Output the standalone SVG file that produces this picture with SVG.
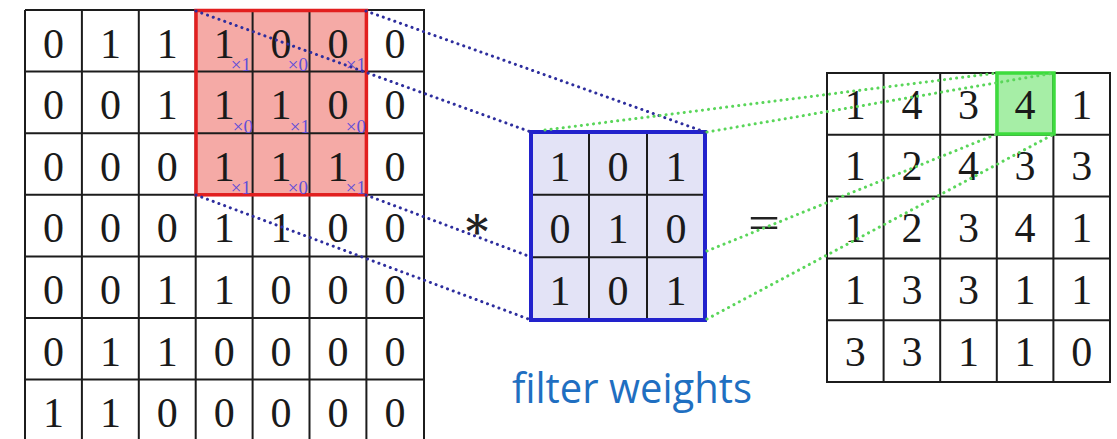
<svg xmlns="http://www.w3.org/2000/svg" width="1117" height="439" viewBox="0 0 1117 439">
  <defs>
    <style>
      .grid { fill: none; stroke: #1c1c1c; stroke-width: 2; }
      .num { font-family: "Liberation Serif", "DejaVu Serif", serif; font-size: 42px; fill: #1a1a1a; text-anchor: middle; }
      .sub { font-family: "Liberation Serif", "DejaVu Serif", serif; font-size: 19px; fill: #5f4fd8; text-anchor: end; }
      .dot-blue { fill: none; stroke: #2e2e9e; stroke-width: 3; stroke-linecap: round; stroke-dasharray: 0.1 6; }
      .dot-green { fill: none; stroke: #5ad65a; stroke-width: 3; stroke-linecap: round; stroke-dasharray: 0.1 6; }
      .label { font-family: "Open Sans", "Noto Sans", sans-serif; font-size: 42px; fill: #1f6fc1; }
    </style>
  </defs>

  <rect width="1117" height="439" fill="#ffffff"/>

  <!-- 7x7 input matrix with the 3x3 receptive field highlighted -->
  <g id="input-grid">
    <rect x="196" y="10" width="170" height="185" fill="#f5aaa6"/>
    <path class="grid" d="M25 10 H424 V441 M25 10 V441
      M81.9 10 V441 M138.8 10 V441 M195.7 10 V441 M252.6 10 V441 M309.5 10 V441 M366.4 10 V441
      M25 71.6 H424 M25 133.2 H424 M25 194.8 H424 M25 256.4 H424 M25 318 H424 M25 379.6 H424"/>
    <rect x="196" y="10.5" width="170.4" height="184.3" fill="none" stroke="#e21f1f" stroke-width="3.5"/>
    <g class="num">
      <text x="53.5" y="57.5">0</text><text x="110.4" y="57.5">1</text><text x="167.3" y="57.5">1</text><text x="224.2" y="57.5">1</text><text x="281.1" y="57.5">0</text><text x="338" y="57.5">0</text><text x="394.9" y="57.5">0</text>
      <text x="53.5" y="119">0</text><text x="110.4" y="119">0</text><text x="167.3" y="119">1</text><text x="224.2" y="119">1</text><text x="281.1" y="119">1</text><text x="338" y="119">0</text><text x="394.9" y="119">0</text>
      <text x="53.5" y="180.7">0</text><text x="110.4" y="180.7">0</text><text x="167.3" y="180.7">0</text><text x="224.2" y="180.7">1</text><text x="281.1" y="180.7">1</text><text x="338" y="180.7">1</text><text x="394.9" y="180.7">0</text>
      <text x="53.5" y="242.3">0</text><text x="110.4" y="242.3">0</text><text x="167.3" y="242.3">0</text><text x="224.2" y="242.3">1</text><text x="281.1" y="242.3">1</text><text x="338" y="242.3">0</text><text x="394.9" y="242.3">0</text>
      <text x="53.5" y="303.9">0</text><text x="110.4" y="303.9">0</text><text x="167.3" y="303.9">1</text><text x="224.2" y="303.9">1</text><text x="281.1" y="303.9">0</text><text x="338" y="303.9">0</text><text x="394.9" y="303.9">0</text>
      <text x="53.5" y="365.5">0</text><text x="110.4" y="365.5">1</text><text x="167.3" y="365.5">1</text><text x="224.2" y="365.5">0</text><text x="281.1" y="365.5">0</text><text x="338" y="365.5">0</text><text x="394.9" y="365.5">0</text>
      <text x="53.5" y="427.1">1</text><text x="110.4" y="427.1">1</text><text x="167.3" y="427.1">0</text><text x="224.2" y="427.1">0</text><text x="281.1" y="427.1">0</text><text x="338" y="427.1">0</text><text x="394.9" y="427.1">0</text>
    </g>
    <!-- kernel weights written as subscripts in the highlighted cells -->
    <g class="sub">
      <text x="251" y="71">×1</text><text x="308" y="71">×0</text><text x="366" y="71">×1</text>
      <text x="253" y="132.5">×0</text><text x="310" y="132.5">×1</text><text x="366" y="132.5">×0</text>
      <text x="251" y="194">×1</text><text x="308" y="194">×0</text><text x="366" y="194">×1</text>
    </g>
  </g>

  <!-- convolution operator -->
  <g id="operator-star">
    <text x="477" y="238" font-family="DejaVu Serif, serif" font-size="44" font-weight="bold" fill="#222" text-anchor="middle">∗</text>
  </g>

  <!-- 3x3 kernel -->
  <g id="filter">
    <rect x="531" y="132" width="174" height="188" fill="#e3e3f6"/>
    <path class="grid" d="M589 132 V320 M647 132 V320 M531 194.7 H705 M531 257.3 H705"/>
    <rect x="531" y="132" width="174" height="188" fill="none" stroke="#2222cc" stroke-width="4"/>
    <g class="num">
      <text x="560" y="180.5">1</text><text x="618" y="180.5">0</text><text x="676" y="180.5">1</text>
      <text x="560" y="243">0</text><text x="618" y="243">1</text><text x="676" y="243">0</text>
      <text x="560" y="305">1</text><text x="618" y="305">0</text><text x="676" y="305">1</text>
    </g>
  </g>

  <!-- result operator -->
  <g id="operator-equals">
    <text x="748" y="239" font-family="Liberation Serif, serif" font-size="48" fill="#222" textLength="32" lengthAdjust="spacingAndGlyphs">=</text>
  </g>

  <!-- 5x5 feature map with the current output cell highlighted -->
  <g id="output-grid">
    <rect x="997" y="73" width="57" height="61" fill="#a6eea6"/>
    <path class="grid" d="M827 73 H1110 V382 H827 Z
      M883.6 73 V382 M940.2 73 V382 M996.8 73 V382 M1053.4 73 V382
      M827 134.8 H1110 M827 196.6 H1110 M827 258.4 H1110 M827 320.2 H1110"/>
    <rect x="997" y="73" width="57" height="61" fill="none" stroke="#3ddc3d" stroke-width="3.5"/>
    <g class="num">
      <text x="855.3" y="118.5">1</text><text x="911.9" y="118.5">4</text><text x="968.5" y="118.5">3</text><text x="1025.1" y="118.5">4</text><text x="1081.7" y="118.5">1</text>
      <text x="855.3" y="180.3">1</text><text x="911.9" y="180.3">2</text><text x="968.5" y="180.3">4</text><text x="1025.1" y="180.3">3</text><text x="1081.7" y="180.3">3</text>
      <text x="855.3" y="242.1">1</text><text x="911.9" y="242.1">2</text><text x="968.5" y="242.1">3</text><text x="1025.1" y="242.1">4</text><text x="1081.7" y="242.1">1</text>
      <text x="855.3" y="303.9">1</text><text x="911.9" y="303.9">3</text><text x="968.5" y="303.9">3</text><text x="1025.1" y="303.9">1</text><text x="1081.7" y="303.9">1</text>
      <text x="855.3" y="365.7">3</text><text x="911.9" y="365.7">3</text><text x="968.5" y="365.7">1</text><text x="1025.1" y="365.7">1</text><text x="1081.7" y="365.7">0</text>
    </g>
  </g>

  <!-- projection lines: receptive field to kernel, kernel to output cell -->
  <g id="connectors">
    <line class="dot-blue" x1="196" y1="11" x2="531" y2="132"/>
    <line class="dot-blue" x1="366" y1="11" x2="705" y2="132"/>
    <line class="dot-blue" x1="366" y1="195" x2="531" y2="257"/>
    <line class="dot-blue" x1="196" y1="195" x2="531" y2="320"/>
    <line class="dot-green" x1="545" y1="130" x2="997" y2="73"/>
    <line class="dot-green" x1="707" y1="132" x2="1054" y2="73"/>
    <line class="dot-green" x1="707" y1="251" x2="997" y2="134"/>
    <line class="dot-green" x1="707" y1="319" x2="1054" y2="134"/>
  </g>

  <g id="label">
    <text class="label" x="512" y="403" textLength="240" lengthAdjust="spacingAndGlyphs">filter weights</text>
  </g>
</svg>
